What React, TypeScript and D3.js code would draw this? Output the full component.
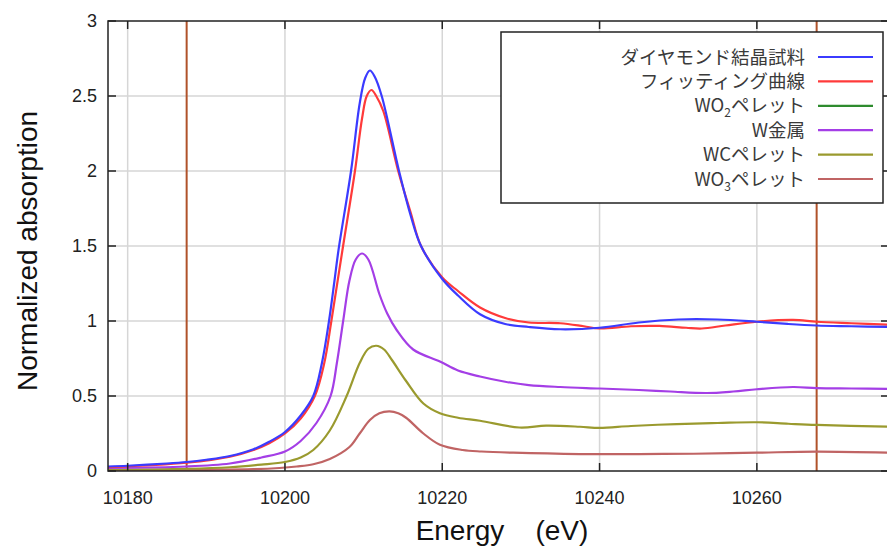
import React from "react";
import * as d3 from "d3";

const W = 887;
const H = 546;

const seriesNames = ["ダイヤモンド結晶試料", "フィッティング曲線", "WO2ペレット", "W金属", "WCペレット", "WO3ペレット"];
const seriesColors = ["#3b3bff", "#ff3a3a", "#2e8b2e", "#a43ee6", "#9a9a2e", "#c06464"];

const xTicks = [10180, 10200, 10220, 10240, 10260];
const yTicks = [0, 0.5, 1, 1.5, 2, 2.5, 3];
const markerLines = [10187.5, 10267.6];

// [energy, absorption]
const diamond: [number, number][] = [
  [10177.5, 0.03], [10180, 0.035], [10185, 0.05], [10187.5, 0.06], [10190, 0.075], [10193, 0.1],
  [10196, 0.145], [10198, 0.195], [10200, 0.26], [10202, 0.37], [10203.6, 0.5], [10204.7, 0.72],
  [10205.6, 1.0], [10206.3, 1.27], [10206.8, 1.47], [10208.4, 2.0], [10209.5, 2.45], [10210.2, 2.62],
  [10210.8, 2.67], [10211.4, 2.63], [10212.3, 2.5], [10214.5, 2.0], [10216, 1.7], [10217.3, 1.5],
  [10220, 1.28], [10222, 1.17], [10224.8, 1.045], [10228, 0.98], [10231, 0.96], [10235, 0.945],
  [10240, 0.955], [10245, 0.99], [10250, 1.01], [10255, 1.01], [10260, 0.995], [10264, 0.98],
  [10267.6, 0.97], [10272, 0.965], [10277, 0.96],
];
const fitting: [number, number][] = [
  [10177.5, 0.025], [10187.5, 0.055], [10193, 0.095], [10196, 0.14], [10198, 0.185], [10200, 0.25],
  [10202, 0.35], [10203.8, 0.5], [10205, 0.72], [10205.9, 1.0], [10207.3, 1.47], [10208.9, 2.0],
  [10209.8, 2.35], [10210.4, 2.5], [10211, 2.54], [10211.6, 2.5], [10212.5, 2.4], [10214.4, 2.0],
  [10216, 1.72], [10217.3, 1.5], [10220, 1.29], [10222, 1.2], [10224.8, 1.09], [10228, 1.02],
  [10231, 0.99], [10235, 0.985], [10238, 0.965], [10240, 0.95], [10244, 0.965], [10247.6, 0.967],
  [10251, 0.955], [10253, 0.95], [10256, 0.97], [10260, 0.995], [10264.6, 1.007], [10267.6, 0.995],
  [10272, 0.985], [10277, 0.975],
];
const wo2: [number, number][] = [];
const wMetal: [number, number][] = [
  [10177.5, 0.02], [10187.5, 0.03], [10193, 0.05], [10197, 0.09], [10200, 0.13], [10202, 0.2],
  [10204, 0.32], [10205.8, 0.5], [10206.6, 0.72], [10207.4, 1.0], [10208.2, 1.27], [10209, 1.41],
  [10209.8, 1.45], [10210.6, 1.41], [10212, 1.18], [10213, 1.05], [10214.2, 0.94], [10216.3, 0.81],
  [10219.7, 0.73], [10222, 0.67], [10224.8, 0.63], [10228, 0.595], [10231, 0.573], [10235, 0.56],
  [10240, 0.55], [10245, 0.54], [10249, 0.53], [10253.6, 0.52], [10257, 0.53], [10260, 0.545],
  [10264.6, 0.56], [10267.6, 0.553], [10272, 0.55], [10277, 0.547],
];
const wc: [number, number][] = [
  [10177.5, 0.01], [10187.5, 0.015], [10193, 0.025], [10197, 0.042], [10200, 0.06], [10202, 0.09],
  [10203.6, 0.14], [10205.7, 0.27], [10207.8, 0.495], [10209.5, 0.72], [10210.6, 0.815], [10211.6, 0.835],
  [10212.6, 0.81], [10213.6, 0.74], [10215.4, 0.6], [10217.6, 0.45], [10219.7, 0.385], [10222, 0.355],
  [10224.8, 0.335], [10229.8, 0.29], [10233.2, 0.302], [10237.5, 0.295], [10240, 0.287], [10244, 0.3],
  [10249.8, 0.313], [10255, 0.32], [10260, 0.325], [10264, 0.315], [10267.6, 0.307], [10277, 0.296],
];
const wo3: [number, number][] = [
  [10177.5, 0.005], [10190, 0.008], [10196, 0.012], [10199.3, 0.02], [10201.5, 0.03], [10203.6, 0.045],
  [10205.7, 0.08], [10208.2, 0.16], [10209.5, 0.25], [10210.8, 0.34], [10212, 0.385], [10213.3, 0.397],
  [10214.4, 0.385], [10215.4, 0.355], [10217.6, 0.25], [10219.7, 0.175], [10222.6, 0.14], [10225, 0.13],
  [10229, 0.122], [10237.5, 0.113], [10245, 0.113], [10252, 0.115], [10260, 0.122], [10267.6, 0.129],
  [10277, 0.122],
];

const seriesData = [diamond, fitting, wo2, wMetal, wc, wo3];
const drawOrder = [5, 4, 3, 2, 1, 0];

const M = { left: 108, top: 21, right: 889, bottom: 471 };

export default function App() {
  const x = d3.scaleLinear().domain([10177.5, 10276.8]).range([M.left, M.right]);
  const y = d3.scaleLinear().domain([0, 3]).range([M.bottom, M.top]);
  const line = d3
    .line<[number, number]>()
    .x((d) => x(d[0]))
    .y((d) => y(d[1]))
    .curve(d3.curveCatmullRom.alpha(0.5));

  const font = "'Liberation Sans', Arial, sans-serif";
  const jp = "'Noto Sans CJK JP', 'Noto Sans', sans-serif";

  const legendX = 501, legendY = 32, legendW = 382, legendH = 171;
  const rowY = (i: number) => 57 + i * 24.4;

  const renderLabel = (name: string) => {
    const m = name.match(/^WO(\d)(.*)$/);
    if (m) {
      return (
        <>
          WO<tspan fontSize={12} dy={5}>{m[1]}</tspan>
          <tspan dy={-5}>{m[2]}</tspan>
        </>
      );
    }
    return name;
  };

  return (
    <svg width={W} height={H} style={{ position: "absolute", left: 0, top: 0, background: "#fff" }}>
      <defs>
        <clipPath id="plotclip">
          <rect x={M.left} y={M.top} width={M.right - M.left} height={M.bottom - M.top} />
        </clipPath>
      </defs>
      <rect x={0} y={0} width={W} height={H} fill="#fff" />
      {/* grid */}
      {xTicks.map((t) => (
        <line key={"gx" + t} x1={x(t)} x2={x(t)} y1={M.top} y2={M.bottom} stroke="#d6d6d6" strokeWidth={1.5} />
      ))}
      {yTicks.filter((t) => t > 0 && t < 3).map((t) => (
        <line key={"gy" + t} x1={M.left} x2={M.right} y1={y(t)} y2={y(t)} stroke="#d6d6d6" strokeWidth={1.5} />
      ))}
      {/* marker lines */}
      {markerLines.map((m) => (
        <line key={"m" + m} x1={x(m)} x2={x(m)} y1={M.top} y2={M.bottom} stroke="#b0522a" strokeWidth={2} />
      ))}
      {/* series */}
      <g clipPath="url(#plotclip)">
        {drawOrder.map((i) =>
          seriesData[i].length ? (
            <path key={"s" + i} d={line(seriesData[i]) || ""} fill="none" stroke={seriesColors[i]} strokeWidth={2.2} />
          ) : null
        )}
      </g>
      {/* frame */}
      <rect x={M.left} y={M.top} width={M.right - M.left} height={M.bottom - M.top} fill="none" stroke="#222" strokeWidth={1.5} />
      {/* ticks */}
      {xTicks.map((t) => (
        <g key={"tx" + t}>
          <line x1={x(t)} x2={x(t)} y1={M.bottom} y2={M.bottom - 8} stroke="#222" strokeWidth={1.5} />
          <line x1={x(t)} x2={x(t)} y1={M.top} y2={M.top + 8} stroke="#222" strokeWidth={1.5} />
          <text x={x(t)} y={504} textAnchor="middle" fontFamily={font} fontSize={18} fill="#222">
            {t}
          </text>
        </g>
      ))}
      {yTicks.map((t) => (
        <g key={"ty" + t}>
          <line x1={M.left} x2={M.left + 8} y1={y(t)} y2={y(t)} stroke="#222" strokeWidth={1.5} />
          <line x1={M.right} x2={M.right - 8} y1={y(t)} y2={y(t)} stroke="#222" strokeWidth={1.5} />
          <text x={97} y={y(t) + 6} textAnchor="end" fontFamily={font} fontSize={18} fill="#222">
            {d3.format("~g")(t)}
          </text>
        </g>
      ))}
      {/* axis titles */}
      <text x={502} y={540} textAnchor="middle" fontFamily={font} fontSize={28} fill="#111">
        Energy{"\u00a0\u00a0\u00a0\u00a0"}(eV)
      </text>
      <text
        transform={`translate(37,251) rotate(-90)`}
        textAnchor="middle"
        fontFamily={font}
        fontSize={28}
        fill="#111"
      >
        Normalized absorption
      </text>
      {/* legend */}
      <rect x={legendX} y={legendY} width={legendW} height={legendH} fill="#fff" stroke="#222" strokeWidth={1.5} />
      {seriesNames.map((n, i) => (
        <g key={"l" + i}>
          <text x={805} y={rowY(i) + 6.5} textAnchor="end" fontFamily={jp} fontSize={18.5} fill="#3a3a3a">
            {renderLabel(n)}
          </text>
          <line x1={818} x2={873} y1={rowY(i)} y2={rowY(i)} stroke={seriesColors[i]} strokeWidth={2.2} />
        </g>
      ))}
    </svg>
  );
}
